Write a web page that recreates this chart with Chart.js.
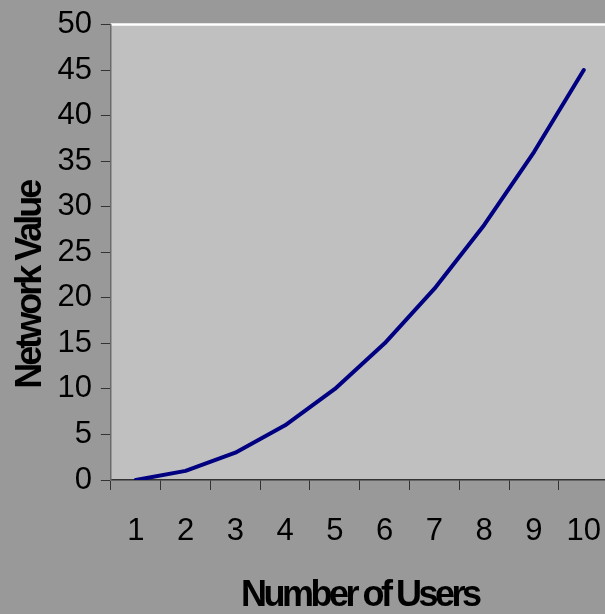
<!DOCTYPE html>
<html lang="en">
<head>
    <meta charset="UTF-8">
    <title>Network Value vs Number of Users</title>
    <script src="https://cdn.jsdelivr.net/npm/chart.js"></script>
    <style>
        html, body {
            margin: 0;
            padding: 0;
            overflow: hidden;
            background: #999999;
        }
        .chart-container {
            position: relative;
            width: 624px;
            height: 614px;
        }
    </style>
</head>
<body>
    <!-- the plot runs a little past the right edge of the window, as in the original -->
    <div class="chart-container">
        <canvas id="network-chart" width="624" height="614"></canvas>
    </div>

    <script>
        // Data
        const users = ['1', '2', '3', '4', '5', '6', '7', '8', '9', '10'];
        const networkValue = [0, 1, 3, 6, 10, 15, 21, 28, 36, 45];
        const yMin = 0;
        const yMax = 50;
        const yStep = 5;

        const fontFamily = '"Liberation Sans", Arial, sans-serif';

        // grey plot area with the white top edge
        const plotArea = {
            id: 'plotArea',
            beforeDraw(chart) {
                const { ctx, chartArea: a } = chart;
                ctx.save();
                ctx.fillStyle = '#c0c0c0';
                ctx.fillRect(a.left, a.top, a.right - a.left, a.bottom - a.top);
                ctx.strokeStyle = '#ffffff';
                ctx.lineWidth = 2.5;
                ctx.beginPath();
                ctx.moveTo(a.left, a.top);
                ctx.lineTo(a.right, a.top);
                ctx.stroke();
                ctx.restore();
            }
        };

        // squeeze the axis titles the way the original was typeset
        const tightTitles = {
            id: 'tightTitles',
            afterLayout(chart) {
                Object.values(chart.scales).forEach(scale => {
                    if (scale._tight) return;
                    scale._tight = true;
                    const drawTitle = scale.drawTitle.bind(scale);
                    scale.drawTitle = function () {
                        const ctx = this.ctx;
                        ctx.save();
                        if (this.axis === 'y') {
                            ctx.letterSpacing = '-3px';
                            ctx.translate(0, 33);
                        } else {
                            ctx.letterSpacing = '-3.5px';
                        }
                        drawTitle();
                        ctx.restore();
                    };
                });
            }
        };

        const ctx = document.getElementById('network-chart').getContext('2d');
        new Chart(ctx, {
            type: 'line',
            data: {
                labels: users,
                datasets: [{
                    data: networkValue,
                    borderColor: '#000080',
                    borderWidth: 4,
                    borderCapStyle: 'round',
                    borderJoinStyle: 'round',
                    pointRadius: 0,
                    fill: false,
                    tension: 0
                }]
            },
            options: {
                responsive: false,
                devicePixelRatio: 1,
                animation: false,
                layout: {
                    padding: { top: 0, right: 0, bottom: 0, left: 0 }
                },
                plugins: {
                    legend: { display: false },
                    tooltip: { enabled: false }
                },
                scales: {
                    x: {
                        type: 'category',
                        offset: true,
                        grid: {
                            offset: true,
                            drawOnChartArea: false,
                            drawTicks: true,
                            tickLength: 10,
                            tickColor: '#333333'
                        },
                        border: { display: true, color: '#333333', width: 1.5 },
                        ticks: {
                            color: '#000000',
                            padding: 23,
                            maxRotation: 0,
                            autoSkip: false,
                            font: { family: fontFamily, size: 31, lineHeight: 1.2 }
                        },
                        title: {
                            display: true,
                            text: 'Number of Users',
                            color: '#000000',
                            padding: { top: 4.8, bottom: 0 },
                            font: { family: fontFamily, size: 36, weight: 'bold', lineHeight: 1 }
                        }
                    },
                    y: {
                        min: yMin,
                        max: yMax,
                        grid: {
                            drawOnChartArea: false,
                            drawTicks: true,
                            tickLength: 10,
                            tickColor: '#333333'
                        },
                        border: { display: true, color: '#6a6a6a', width: 1.5 },
                        ticks: {
                            stepSize: yStep,
                            color: '#000000',
                            padding: 9,
                            font: { family: fontFamily, size: 31, lineHeight: 1.0 }
                        },
                        title: {
                            display: true,
                            text: 'Network Value',
                            color: '#000000',
                            padding: { top: 16.6, bottom: 3 },
                            font: { family: fontFamily, size: 36, weight: 'bold', lineHeight: 0.8 }
                        }
                    }
                }
            },
            plugins: [plotArea, tightTitles]
        });
    </script>
</body>
</html>
